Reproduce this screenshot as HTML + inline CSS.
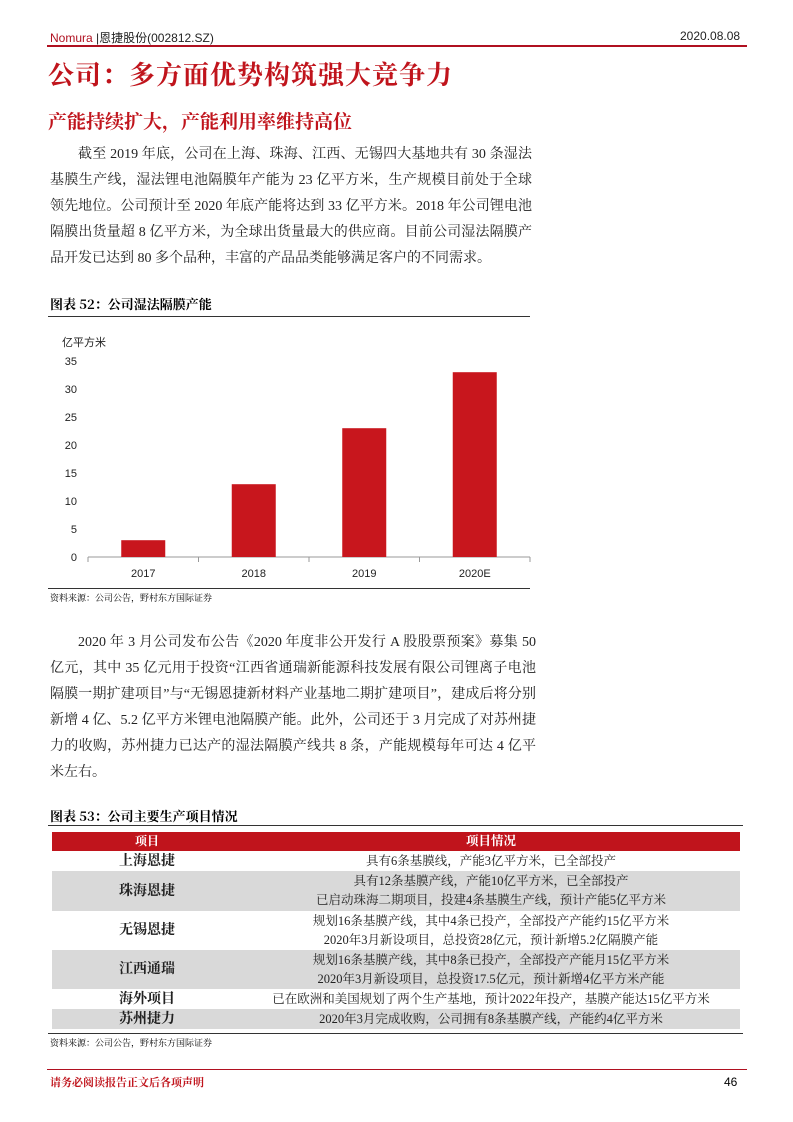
<!DOCTYPE html>
<html><head><meta charset="utf-8">
<style>
body{margin:0;width:793px;height:1122px;background:#fff;position:relative;font-family:"Liberation Sans","Noto Sans CJK SC",sans-serif;overflow:hidden}
.a{position:absolute}
.p{font-family:"Liberation Serif","Noto Serif CJK SC",serif;font-size:14px;color:#222;line-height:26px;letter-spacing:0;text-align:justify}
table{border-collapse:collapse;font-family:"Liberation Serif","Noto Serif CJK SC",serif;font-size:12.5px;color:#222}
td{text-align:center;padding:0;line-height:19px}
td.k{font-weight:bold;font-size:14px;width:190px}
</style></head><body>
<div class="a" style="left:50px;top:29px;font-size:12px;color:#b01020">Nomura <span style="color:#222">|恩捷股份(002812.SZ)</span></div>
<div class="a" style="left:680px;top:29px;font-size:12px;color:#222">2020.08.08</div>
<div class="a" style="left:47px;top:45px;width:700px;height:2px;background:#b01020"></div>
<div class="a" style="left:48px;top:55px;font-size:26px;font-weight:bold;color:#c0141c;font-family:'Noto Serif CJK SC',serif;letter-spacing:1px">公司：多方面优势构筑强大竞争力</div>
<div class="a" style="left:48px;top:107px;font-size:19px;font-weight:bold;color:#c0141c;font-family:'Noto Serif CJK SC',serif">产能持续扩大，产能利用率维持高位</div>
<div class="a p" style="left:50px;top:142px;width:482px;text-indent:28px">截至 2019 年底，公司在上海、珠海、江西、无锡四大基地共有 30 条湿法基膜生产线，湿法锂电池隔膜年产能为 23 亿平方米，生产规模目前处于全球领先地位。公司预计至 2020 年底产能将达到 33 亿平方米。2018 年公司锂电池隔膜出货量超 8 亿平方米，为全球出货量最大的供应商。目前公司湿法隔膜产品开发已达到 80 多个品种，丰富的产品品类能够满足客户的不同需求。</div>
<div class="a" style="left:50px;top:294px;font-size:13px;font-weight:bold;font-family:'Noto Serif CJK SC',serif">图表 52：公司湿法隔膜产能</div>
<div class="a" style="left:48px;top:316px;width:482px;height:1px;background:#333"></div>
<svg class="a" style="left:0;top:320px" width="793" height="270" id="ch"></svg>
<div class="a" style="left:48px;top:588px;width:482px;height:1px;background:#333"></div>
<div class="a" style="left:50px;top:591px;font-size:9px;font-family:'Noto Serif CJK SC',serif">资料来源：公司公告，野村东方国际证券</div>
<div class="a p" style="left:50px;top:630px;width:486px;text-indent:28px">2020 年 3 月公司发布公告《2020 年度非公开发行 A 股股票预案》募集 50 亿元，其中 35 亿元用于投资“江西省通瑞新能源科技发展有限公司锂离子电池隔膜一期扩建项目”与“无锡恩捷新材料产业基地二期扩建项目”，建成后将分别新增 4 亿、5.2 亿平方米锂电池隔膜产能。此外，公司还于 3 月完成了对苏州捷力的收购，苏州捷力已达产的湿法隔膜产线共 8 条，产能规模每年可达 4 亿平米左右。</div>
<div class="a" style="left:50px;top:806px;font-size:13px;font-weight:bold;font-family:'Noto Serif CJK SC',serif">图表 53：公司主要生产项目情况</div>
<div class="a" style="left:48px;top:825px;width:695px;height:1px;background:#333"></div>
<table class="a" style="left:52px;top:832px;width:688px">
<tr style="background:#c0141c;color:#fff;height:18px"><td class="k" style="font-size:12px">项目</td><td style="font-weight:bold">项目情况</td></tr>
<tr style="height:20px"><td class="k">上海恩捷</td><td>具有6条基膜线，产能3亿平方米，已全部投产</td></tr>
<tr style="height:40px;background:#d9d9d9"><td class="k">珠海恩捷</td><td>具有12条基膜产线，产能10亿平方米，已全部投产<br>已启动珠海二期项目，投建4条基膜生产线，预计产能5亿平方米</td></tr>
<tr style="height:39px"><td class="k">无锡恩捷</td><td>规划16条基膜产线，其中4条已投产，全部投产产能约15亿平方米<br>2020年3月新设项目，总投资28亿元，预计新增5.2亿隔膜产能</td></tr>
<tr style="height:39px;background:#d9d9d9"><td class="k">江西通瑞</td><td>规划16条基膜产线，其中8条已投产，全部投产产能月15亿平方米<br>2020年3月新设项目，总投资17.5亿元，预计新增4亿平方米产能</td></tr>
<tr style="height:20px"><td class="k">海外项目</td><td>已在欧洲和美国规划了两个生产基地，预计2022年投产，基膜产能达15亿平方米</td></tr>
<tr style="height:20px;background:#d9d9d9"><td class="k">苏州捷力</td><td>2020年3月完成收购，公司拥有8条基膜产线，产能约4亿平方米</td></tr>
</table>
<div class="a" style="left:48px;top:1033px;width:695px;height:1px;background:#333"></div>
<div class="a" style="left:50px;top:1036px;font-size:9px;font-family:'Noto Serif CJK SC',serif">资料来源：公司公告，野村东方国际证券</div>
<div class="a" style="left:47px;top:1069px;width:700px;height:1px;background:#b01020"></div>
<div class="a" style="left:50px;top:1074px;font-size:11px;font-weight:bold;color:#c0141c;font-family:'Noto Serif CJK SC',serif">请务必阅读报告正文后各项声明</div>
<div class="a" style="left:724px;top:1075px;font-size:12px">46</div>
<script>
const categories=["2017","2018","2019","2020E"];
const values=[3,13,23,33];
const ticks=[0,5,10,15,20,25,30,35];
const ns="http://www.w3.org/2000/svg",svg=document.getElementById("ch");
const X0=88,X1=530,Y0=237,Y35=41;
const y=v=>Y0-(Y0-Y35)*v/35;
const band=(X1-X0)/categories.length;
const x=i=>X0+band*(i+0.5);
function mk(t,a,txt){const e=document.createElementNS(ns,t);for(const k in a)e.setAttribute(k,a[k]);if(txt!=null)e.textContent=txt;svg.appendChild(e);return e;}
let u=mk("text",{x:62,y:26,"font-size":11,fill:"#222"},"亿平方米");


ticks.forEach(t=>{const e=mk("text",{x:77,y:y(t)+4,"font-size":11,"text-anchor":"end",fill:"#222"},t);

});
const ax=mk("line",{x1:X0,x2:X1,y1:Y0,y2:Y0,stroke:"#999"});


for(let i=0;i<=categories.length;i++){const tk=mk("line",{x1:X0+band*i,x2:X0+band*i,y1:Y0,y2:Y0+5,stroke:"#999"});

}
categories.forEach((c,i)=>{
const b=mk("rect",{x:x(i)-22,width:44,y:y(values[i]),height:Y0-y(values[i]),fill:"#c8161d"});


const l=mk("text",{x:x(i),y:Y0+20,"font-size":11,"text-anchor":"middle",fill:"#222"},c);

});
</script>
</body></html>
